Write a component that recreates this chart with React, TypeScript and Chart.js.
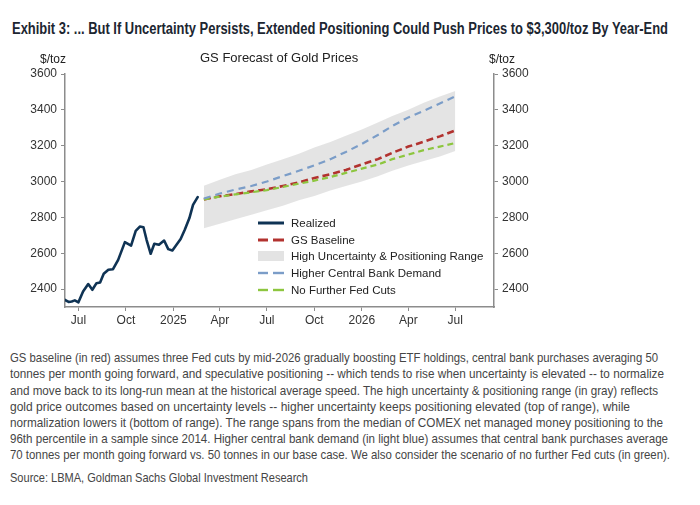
import React, { useEffect, useLayoutEffect, useRef } from "react";
import { Chart, registerables } from "chart.js";

Chart.register(...registerables);

// ---------- DATA ----------
const realizedDates = [
  "2024-06-04", "2024-06-12", "2024-06-18", "2024-06-24", "2024-07-01", "2024-07-10",
  "2024-07-20", "2024-07-28", "2024-08-05", "2024-08-12", "2024-08-19", "2024-08-28",
  "2024-09-06", "2024-09-16", "2024-09-29", "2024-10-11", "2024-10-20", "2024-10-28",
  "2024-11-04", "2024-11-10", "2024-11-18", "2024-11-25", "2024-12-04", "2024-12-14",
  "2024-12-22", "2024-12-30", "2025-01-07", "2025-01-15", "2025-01-23", "2025-02-01",
  "2025-02-08", "2025-02-17",
];
const realizedValues = [
  2341, 2328, 2331, 2337, 2326, 2387,
  2428, 2396, 2433, 2437, 2485, 2508,
  2511, 2563, 2662, 2643, 2725, 2749,
  2745, 2675, 2597, 2653, 2647, 2671,
  2623, 2615, 2647, 2679, 2731, 2796,
  2870, 2913,
];

const forecastDates = [
  "2025-03-01", "2025-04-01", "2025-05-01", "2025-06-01", "2025-07-01", "2025-08-01",
  "2025-09-01", "2025-10-01", "2025-11-01", "2025-12-01", "2026-01-01", "2026-02-01",
  "2026-03-01", "2026-04-01", "2026-05-01", "2026-06-01", "2026-07-01",
];
const baselineValues = [
  2900, 2918, 2930, 2945, 2957, 2975, 2995, 3020, 3040, 3065, 3095, 3125, 3160, 3195, 3222, 3252, 3285,
];
const cbDemandValues = [
  2905, 2933, 2955, 2975, 3000, 3030, 3060, 3090, 3125, 3165, 3210, 3260, 3310, 3358, 3395, 3435, 3475,
];
const noCutsValues = [
  2900, 2916, 2928, 2940, 2952, 2970, 2988, 3005, 3025, 3048, 3072, 3095, 3125, 3150, 3175, 3195, 3215,
];
const rangeHigh = [
  2976, 3010, 3040, 3065, 3095, 3125, 3155, 3190, 3220, 3255, 3290, 3330, 3365, 3400, 3440, 3475, 3505,
];
const rangeLow = [
  2740, 2765, 2790, 2815, 2840, 2865, 2895, 2920, 2950, 2975, 3000, 3030, 3060, 3090, 3115, 3140, 3170,
];

const xMinDate = "2024-06-05";
const xMaxDate = "2026-09-14";
const tickDates = [
  "2024-07-01", "2024-10-01", "2025-01-01", "2025-04-01", "2025-07-01",
  "2025-10-01", "2026-01-01", "2026-04-01", "2026-07-01",
];
const tickLabels = ["Jul", "Oct", "2025", "Apr", "Jul", "Oct", "2026", "Apr", "Jul"];
const yTicks = [2400, 2600, 2800, 3000, 3200, 3400, 3600];
const yMin = 2300;
const yMax = 3600;

const titleText =
  "Exhibit 3: ... But If Uncertainty Persists, Extended Positioning Could Push Prices to $3,300/toz By Year-End";
const chartTitle = "GS Forecast of Gold Prices";
const unitLabel = "$/toz";
const legendLabels = [
  "Realized",
  "GS Baseline",
  "High Uncertainty & Positioning Range",
  "Higher Central Bank Demand",
  "No Further Fed Cuts",
];
const footnoteLines = [
  "GS baseline (in red) assumes three Fed cuts by mid-2026 gradually boosting ETF holdings, central bank purchases averaging 50",
  "tonnes per month going forward, and speculative positioning -- which tends to rise when uncertainty is elevated -- to normalize",
  "and move back to its long-run mean at the historical average speed. The high uncertainty & positioning range (in gray) reflects",
  "gold price outcomes based on uncertainty levels -- higher uncertainty keeps positioning elevated (top of range), while",
  "normalization lowers it (bottom of range). The range spans from the median of COMEX net managed money positioning to the",
  "96th percentile in a sample since 2014. Higher central bank demand (in light blue) assumes that central bank purchases average",
  "70 tonnes per month going forward vs. 50 tonnes in our base case. We also consider the scenario of no further Fed cuts (in green).",
];
const footnoteWidths = [648, 654, 648, 620, 653, 658, 660];
const sourceText = "Source: LBMA, Goldman Sachs Global Investment Research";

// ---------- HELPERS ----------
const dayNum = (d: string) => Date.parse(d + "T00:00:00Z") / 86400000;
const toPoints = (dates: string[], vals: number[]) =>
  dates.map((d, i) => ({ x: dayNum(d), y: vals[i] }));

const COLORS = {
  realized: "#0f3354",
  baseline: "#b2322f",
  cb: "#7b9dc8",
  nocuts: "#8dc63f",
  band: "rgba(205,205,205,0.55)",
  axis: "#8c8c8c",
  tick: "#333333",
};

const SANS = '"Liberation Sans", Arial, "DejaVu Sans", sans-serif';

function FitText({
  text,
  width,
  style,
}: {
  text: string;
  width: number;
  style: React.CSSProperties;
}) {
  const ref = useRef<HTMLSpanElement | null>(null);
  useLayoutEffect(() => {
    const el = ref.current;
    if (!el) return;
    el.style.transform = "none";
    const w = el.getBoundingClientRect().width;
    if (w > 0) el.style.transform = `scaleX(${width / w})`;
  }, [text, width]);
  return (
    <span
      ref={ref}
      style={{
        display: "inline-block",
        whiteSpace: "nowrap",
        transformOrigin: "0 50%",
        ...style,
      }}
    >
      {text}
    </span>
  );
}

function GoldChart() {
  const ref = useRef<HTMLCanvasElement | null>(null);
  useEffect(() => {
    if (!ref.current) return;
    const yScaleCommon = {
      type: "linear" as const,
      min: yMin,
      max: yMax,
      afterBuildTicks: (s: any) => {
        s.ticks = yTicks.map((v) => ({ value: v }));
      },
      grid: {
        display: true,
        drawOnChartArea: false,
        drawTicks: true,
        tickLength: 4,
        color: COLORS.axis,
        lineWidth: 1,
      },
      border: { display: true, color: COLORS.axis, width: 1.5 },
      ticks: {
        color: COLORS.tick,
        font: { family: SANS, size: 12 },
        padding: 4,
        callback: (v: any) => String(v),
      },
    };
    const chart = new Chart(ref.current, {
      type: "line",
      data: {
        datasets: [
          {
            label: "Range high",
            data: toPoints(forecastDates, rangeHigh),
            borderWidth: 0,
            pointRadius: 0,
            backgroundColor: COLORS.band,
            fill: "+1",
            tension: 0,
          },
          {
            label: "Range low",
            data: toPoints(forecastDates, rangeLow),
            borderWidth: 0,
            pointRadius: 0,
            fill: false,
            tension: 0,
          },
          {
            label: "Higher Central Bank Demand",
            data: toPoints(forecastDates, cbDemandValues),
            borderColor: COLORS.cb,
            borderWidth: 2.2,
            borderDash: [7, 5],
            pointRadius: 0,
            fill: false,
          },
          {
            label: "No Further Fed Cuts",
            data: toPoints(forecastDates, noCutsValues),
            borderColor: COLORS.nocuts,
            borderWidth: 2.2,
            borderDash: [6, 4],
            pointRadius: 0,
            fill: false,
          },
          {
            label: "GS Baseline",
            data: toPoints(forecastDates, baselineValues),
            borderColor: COLORS.baseline,
            borderWidth: 2.6,
            borderDash: [7, 4],
            pointRadius: 0,
            fill: false,
          },
          {
            label: "Realized",
            data: toPoints(realizedDates, realizedValues),
            borderColor: COLORS.realized,
            borderWidth: 2.6,
            pointRadius: 0,
            fill: false,
            tension: 0,
            borderJoinStyle: "round",
            borderCapStyle: "round",
          },
        ],
      },
      options: {
        animation: false,
        responsive: false,
        maintainAspectRatio: false,
        layout: { padding: { top: 74, left: 0, right: 0, bottom: 0 } },
        plugins: {
          legend: { display: false },
          tooltip: { enabled: false },
          title: { display: false },
          filler: { drawTime: "beforeDatasetsDraw" },
        },
        scales: {
          x: {
            type: "linear",
            position: "bottom",
            min: dayNum(xMinDate),
            max: dayNum(xMaxDate),
            afterBuildTicks: (s: any) => {
              s.ticks = tickDates.map((d) => ({ value: dayNum(d) }));
            },
            afterFit: (s: any) => {
              s.height = 33;
            },
            grid: {
              display: true,
              drawOnChartArea: false,
              drawTicks: true,
              tickLength: 4,
              color: COLORS.axis,
            },
            border: { display: true, color: COLORS.axis, width: 1.5 },
            ticks: {
              autoSkip: false,
              maxRotation: 0,
              color: COLORS.tick,
              font: { family: SANS, size: 12 },
              padding: 2,
              callback: (v: any) => {
                const i = tickDates.findIndex((d) => Math.abs(dayNum(d) - Number(v)) < 0.5);
                return i >= 0 ? tickLabels[i] : "";
              },
            },
          },
          y: {
            ...yScaleCommon,
            position: "left",
            afterFit: (s: any) => {
              s.width = 65;
            },
          },
          y2: {
            ...yScaleCommon,
            position: "right",
            afterFit: (s: any) => {
              s.width = 206;
            },
          },
        },
      },
    });
    return () => chart.destroy();
  }, []);
  return <canvas ref={ref} width={700} height={340} style={{ display: "block", width: 700, height: 340 }} />;
}

function LegendSymbol({ kind }: { kind: number }) {
  if (kind === 0)
    return (
      <svg width={26} height={10}>
        <line x1={0} y1={5} x2={26} y2={5} stroke={COLORS.realized} strokeWidth={3} />
      </svg>
    );
  if (kind === 2)
    return (
      <svg width={26} height={12}>
        <rect x={0} y={1} width={26} height={10} fill="#e3e3e3" />
      </svg>
    );
  const color = kind === 1 ? COLORS.baseline : kind === 3 ? COLORS.cb : COLORS.nocuts;
  const w = kind === 1 ? 3 : 2.4;
  return (
    <svg width={26} height={10}>
      <line x1={0} y1={5} x2={10} y2={5} stroke={color} strokeWidth={w} />
      <line x1={15} y1={5} x2={26} y2={5} stroke={color} strokeWidth={w} />
    </svg>
  );
}

export default function App() {
  const legendY = [223, 239.5, 256, 273, 290];
  const footY = [357, 373, 389.5, 406, 422, 438, 454];
  return (
    <div
      style={{
        position: "absolute",
        left: 0,
        top: 0,
        width: 700,
        height: 505,
        background: "#ffffff",
        overflow: "hidden",
        fontFamily: SANS,
      }}
    >
      <div style={{ position: "absolute", left: 12, top: 20, height: 18, lineHeight: "18px" }}>
        <FitText
          text={titleText}
          width={656}
          style={{ fontWeight: 700, fontSize: 16, color: "#1c2631", lineHeight: "18px" }}
        />
      </div>
      <div style={{ position: "absolute", left: 0, top: 0 }}>
        <GoldChart />
      </div>
      <div style={{ position: "absolute", left: 40, top: 52, fontSize: 12, color: "#222", lineHeight: "14px" }}>
        {unitLabel}
      </div>
      <div style={{ position: "absolute", left: 489, top: 52, fontSize: 12, color: "#222", lineHeight: "14px" }}>
        {unitLabel}
      </div>
      <div
        style={{
          position: "absolute",
          left: 200,
          top: 50,
          fontSize: 13,
          color: "#222",
          lineHeight: "16px",
          whiteSpace: "nowrap",
        }}
      >
        {chartTitle}
      </div>
      {legendLabels.map((lab, i) => (
        <div
          key={lab}
          style={{
            position: "absolute",
            left: 258,
            top: legendY[i] - 7,
            height: 14,
            display: "flex",
            alignItems: "center",
            whiteSpace: "nowrap",
          }}
        >
          <LegendSymbol kind={i} />
          <span style={{ marginLeft: 7, fontSize: 11.5, color: "#222", lineHeight: "14px" }}>{lab}</span>
        </div>
      ))}
      {footnoteLines.map((l, i) => (
        <div
          key={i}
          style={{ position: "absolute", left: 10, top: footY[i] - 8, height: 16, lineHeight: "16px" }}
        >
          <FitText text={l} width={footnoteWidths[i]} style={{ fontSize: 13, color: "#454545", lineHeight: "16px" }} />
        </div>
      ))}
      <div style={{ position: "absolute", left: 10, top: 477 - 8, height: 16, lineHeight: "16px" }}>
        <FitText text={sourceText} width={298} style={{ fontSize: 13, color: "#454545", lineHeight: "16px" }} />
      </div>
    </div>
  );
}
